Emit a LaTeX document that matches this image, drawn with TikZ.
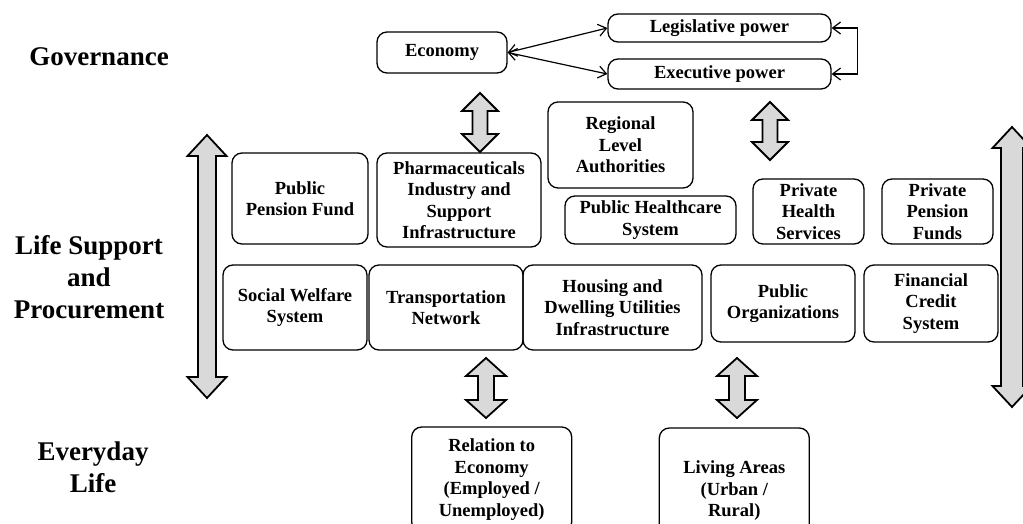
\documentclass[tikz,border=0pt]{standalone}
\usepackage{fontspec}
\setmainfont{Liberation Serif}
\usetikzlibrary{arrows.meta}
\definecolor{arrowgray}{HTML}{D9D9D9}
\tikzset{
  box/.style={draw, rounded corners=10pt, line width=1.3pt, align=center, inner sep=0pt,
    font=\fontsize{18.5}{21.5}\selectfont\bfseries},
  sidelabel/.style={align=center, inner sep=0pt, font=\fontsize{27}{32}\selectfont\bfseries},
  conn/.style={line width=1.2pt, {Straight Barb[length=8pt,width=12pt]}-{Straight Barb[length=8pt,width=12pt]}},
  blockarrow/.style={draw, fill=arrowgray, line width=1.8pt, line join=miter}
}
% #1 x, #2 top y, #3 bottom y, #4 head half width, #5 shaft half width, #6 head length
\newcommand{\dblarr}[6]{%
  \draw[blockarrow] (#1,#2) -- (#1+#4,#2+#6) -- (#1+#5,#2+#6) -- (#1+#5,#3-#6) -- (#1+#4,#3-#6)
    -- (#1,#3) -- (#1-#4,#3-#6) -- (#1-#5,#3-#6) -- (#1-#5,#2+#6) -- (#1-#4,#2+#6) -- cycle;}
\begin{document}
\begin{tikzpicture}[x=1pt,y=-1pt]
\clip (0,0) rectangle (1023,524);
\fill[white] (0,0) rectangle (1023,524);

% side labels
\node[sidelabel] (gov) at (99,57) {Governance};
\node[sidelabel] (life) at (89,277) {Life Support\\and\\Procurement};
\node[sidelabel] (every) at (93,467) {Everyday\\Life};

% governance
\node[box, minimum width=130, minimum height=41] (economy) at (442,52.5) {Economy};
\node[box, minimum width=223, minimum height=28] (leg) at (719.5,28) {Legislative power};
\node[box, minimum width=223, minimum height=30] (exe) at (719.5,74) {Executive power};

\draw[conn] (economy.east) -- (leg.west);
\draw[conn] (economy.east) -- (exe.west);
\draw[conn] (leg.east) -- ++(26,0) |- (exe.east);

% life support
\node[box, minimum width=136, minimum height=91] (ppf) at (300,198.5) {Public\\Pension Fund};
\node[box, minimum width=164, minimum height=94] (pharma) at (459,200) {Pharmaceuticals\\Industry and\\Support\\Infrastructure};
\node[box, minimum width=145, minimum height=86] (regional) at (620.5,145) {Regional\\Level\\Authorities};
\node[box, minimum width=171, minimum height=48] (phc) at (650.5,220) {Public Healthcare\\System};
\node[box, minimum width=111, minimum height=65] (phs) at (808.5,211.5) {Private\\Health\\Services};
\node[box, minimum width=111, minimum height=65] (ppfunds) at (937.5,211.5) {Private\\Pension\\Funds};
\node[box, minimum width=144, minimum height=85] (sws) at (295,307.5) {Social Welfare\\System};
\node[box, minimum width=154, minimum height=85] (trans) at (446,307.5) {Transportation\\Network};
\node[box, minimum width=179, minimum height=85] (housing) at (612.5,307.5) {Housing and\\Dwelling Utilities\\Infrastructure};
\node[box, minimum width=144, minimum height=77] (puborg) at (783,303.5) {Public\\Organizations};
\node[box, minimum width=134, minimum height=77] (fin) at (931,303.5) {Financial\\Credit\\System};

% everyday life
\node[box, minimum width=160, minimum height=105] (relation) at (491.7,479.5) {Relation to\\Economy\\(Employed /\\Unemployed)};
\node[box, minimum width=150, minimum height=126] (living) at (734.3,491) {Living Areas\\(Urban /\\Rural)};

% block arrows
\dblarr{480}{93}{152}{18}{7.5}{18}
\dblarr{770}{102}{160}{18}{7.5}{18}
\dblarr{486}{358}{418}{20}{8}{18}
\dblarr{737}{358}{418}{20}{8}{18}
\dblarr{207}{135}{398}{19.5}{9}{21}
\dblarr{1012}{127}{407}{19.5}{11}{21}
\end{tikzpicture}
\end{document}
